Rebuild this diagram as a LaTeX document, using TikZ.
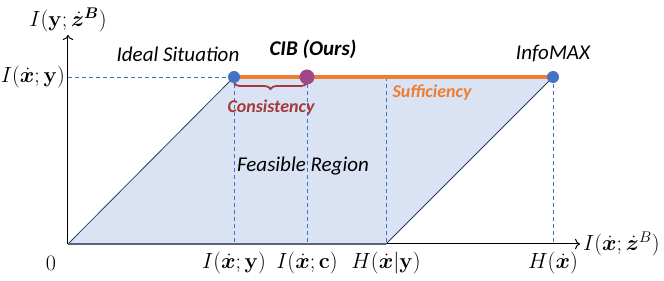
\RequirePackage{fix-cm}
\documentclass[tikz,border=0pt]{standalone}
\usepackage{amsmath,bm}
\usepackage[no-math]{fontspec}
\setmainfont{Carlito}
\usetikzlibrary{arrows.meta, positioning, decorations.pathreplacing}
\definecolor{regionblue}{RGB}{218,227,243}
\definecolor{dotblue}{RGB}{68,114,196}
\definecolor{dotpurple}{RGB}{160,72,138}
\definecolor{lineorange}{RGB}{237,125,49}
\definecolor{bracered}{RGB}{165,56,59}
\definecolor{edgenavy}{RGB}{47,62,94}

\begin{document}
\begin{tikzpicture}[x=1pt, y=1pt, every node/.style={font=\fontsize{22}{26}\selectfont, inner sep=1pt},
    dot/.style={circle, fill=dotblue, inner sep=0pt, minimum size=12pt},
    guide/.style={dotblue, line width=0.6pt, dash pattern=on 4pt off 3pt},
    tag/.style={font=\fontsize{21}{25}\selectfont\itshape}]
    \useasboundingbox (-68,-37) rectangle (596,244);
    \coordinate (origin) at (0,0);
    \coordinate (ideal) at (166,167);
    \coordinate (cib) at (239,167);
    \coordinate (hxy) at (318,0);
    \coordinate (infomax) at (485,167);
    \coordinate (ytip) at (0,209);
    \coordinate (xtip) at (512,0);
    \coordinate (ylevel) at (0,167);
    % feasible region
    \fill[regionblue] (origin) -- (ideal) -- (infomax) -- (hxy) -- cycle;
    \draw[guide] (ylevel) -- (ideal);
    \draw[guide] (ideal) -- (ideal |- origin);
    \draw[guide] (cib) -- (cib |- origin);
    \draw[guide] (hxy |- ideal) -- (hxy);
    \draw[guide] (infomax) -- (infomax |- origin);
    % axes
    \draw[-{To[length=5pt]}, line width=1pt] (origin) -- (ytip);
    \draw[-{To[length=5pt]}, line width=1pt] (origin) -- (xtip);
    \draw[edgenavy, line width=0.8pt] (origin) -- (ideal);
    \draw[edgenavy, line width=0.8pt] (hxy) -- (infomax);
    \draw[edgenavy!80, line width=2pt] (origin) -- (hxy);
    \draw[lineorange, line width=3.5pt] (ideal) -- (infomax);
    \draw[bracered, line width=1.8pt, decorate, decoration={brace, mirror, amplitude=6pt}]
        ([yshift=-6pt]ideal) -- ([yshift=-6pt]cib);
    \node[dot] (idealdot) at (ideal) {};
    \node[dot, fill=dotpurple, minimum size=15pt] (cibdot) at (cib) {};
    \node[dot] (infomaxdot) at (infomax) {};
    % labels
    \node[above=2pt of ytip] (ylab) {$I(\mathbf{y};\dot{\bm{z}}^{\bm{B}})$};
    \node[right=2pt of xtip] (xlab) {$I(\dot{\bm{x}};\dot{\bm{z}}^{B})$};
    \node[left=2pt of ylevel] (ixy) {$I(\dot{\bm{x}};\mathbf{y})$};
    \node at (-17,-19) (zero) {$0$};
    \node[below=7pt of ideal |- origin] (ixylow) {$I(\dot{\bm{x}};\mathbf{y})$};
    \node[below=7pt of cib |- origin] (ixc) {$I(\dot{\bm{x}};\mathbf{c})$};
    \node[below=7pt of hxy] (hxylab) {$H(\dot{\bm{x}}|\mathbf{y})$};
    \node[below=7pt of infomax |- origin] (hx) {$H(\dot{\bm{x}})$};
    \node[tag] at (110,190) (idealtxt) {Ideal Situation};
    \node[tag, font=\fontsize{21}{25}\selectfont\bfseries\itshape] at (245,195) (cibtxt) {CIB (Ours)};
    \node[tag] at (485,190) (infotxt) {InfoMAX};
    \node[tag, text=bracered, font=\fontsize{18}{22}\selectfont\bfseries\itshape] at (203,136) (constxt) {Consistency};
    \node[tag, text=lineorange, font=\fontsize{18}{22}\selectfont\bfseries\itshape] at (364,151) (sufftxt) {Sufficiency};
    \node[tag] at (235,78) (feastxt) {Feasible Region};
\end{tikzpicture}
\end{document}
